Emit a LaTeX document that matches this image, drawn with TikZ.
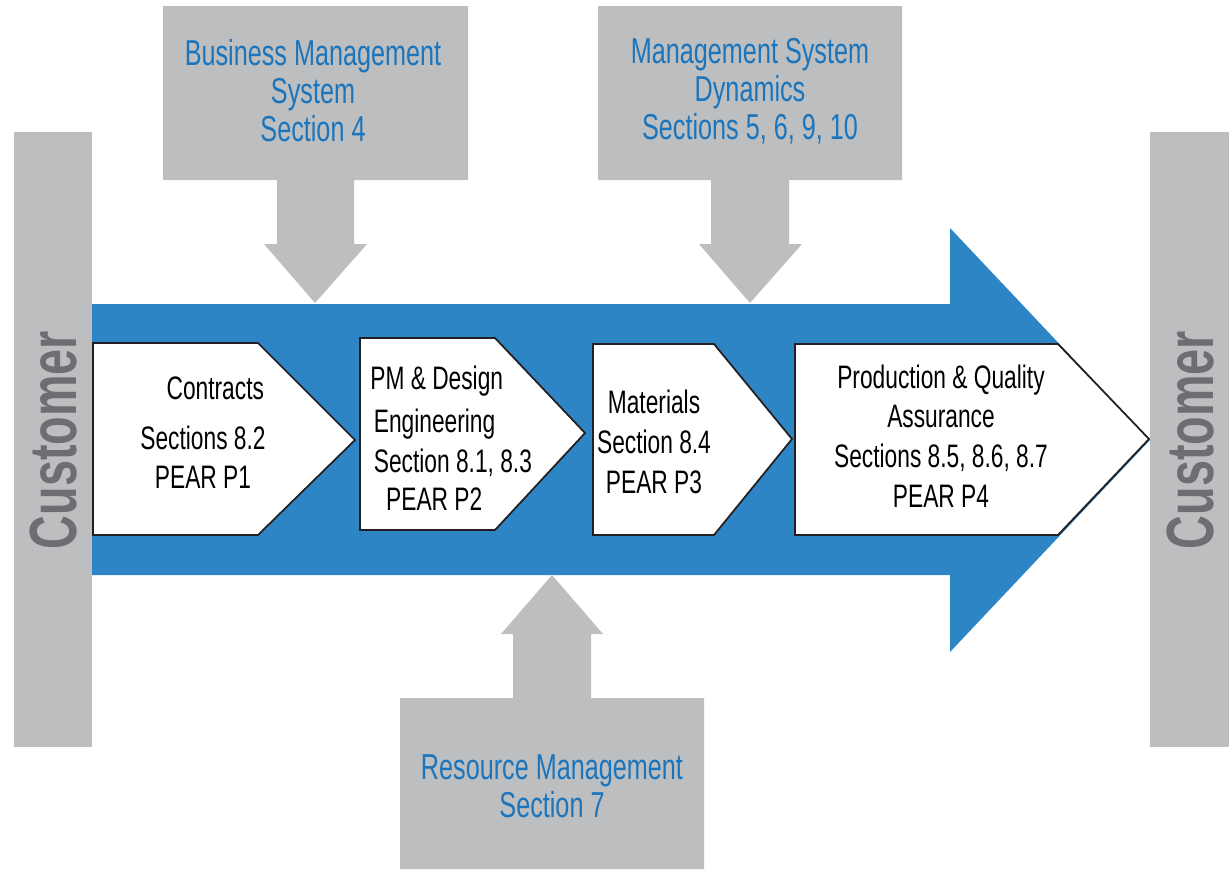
\documentclass[tikz,border=0pt]{standalone}
\usepackage{fontspec}
\setmainfont[FakeStretch=0.7]{Liberation Sans}
\usepackage{xcolor}
\usepackage{tikz}

\definecolor{calloutgray}{RGB}{188,190,192}
\definecolor{flowblue}{RGB}{46,133,198}
\definecolor{labelblue}{RGB}{27,117,188}
\definecolor{custgray}{RGB}{109,110,113}
\definecolor{edgeblack}{RGB}{35,31,32}

\begin{document}
\begin{tikzpicture}[x=0.02cm, y=-0.02cm,
        callout/.style={fill=calloutgray},
        calloutlabel/.style={text=labelblue, align=center, inner sep=0pt,
            font=\fontsize{20.5}{21.6}\selectfont},
        stage/.style={fill=white, draw=edgeblack, line width=1pt, line join=miter},
        stagelabel/.style={text=black, inner sep=0pt,
            font=\fontsize{18.5}{22.6}\selectfont},
        customer/.style={text=custgray, rotate=90, inner sep=0pt,
            font=\fontsize{38}{40}\selectfont\bfseries}]

            \useasboundingbox (0,0) rectangle (1229,869);

            % main flow arrow
            \fill[flowblue] (92,304) -- (950,304) -- (950,228) -- (1150,440)
                -- (950,652) -- (950,575) -- (92,575) -- cycle;

            % customer bars
            \fill[callout] (14,132) rectangle (92,747);
            \fill[callout] (1150,132) rectangle (1229,747);
            \node[customer] (custin) at (54,440) {Customer};
            \node[customer] (custout) at (1190,440) {Customer};

            % inputs
            \fill[callout] (163,6) -- (468,6) -- (468,180) -- (354,180) -- (354,244)
                -- (367,244) -- (315,303) -- (264,244) -- (277,244) -- (277,180)
                -- (163,180) -- cycle;
            \fill[callout] (598,6) -- (902,6) -- (902,180) -- (789,180) -- (789,244)
                -- (802,244) -- (750,303) -- (699,244) -- (711,244) -- (711,180)
                -- (598,180) -- cycle;
            \fill[callout] (400,869) -- (400,698) -- (513,698) -- (513,634)
                -- (501,634) -- (552,575) -- (603,634) -- (591,634) -- (591,698)
                -- (704,698) -- (704,869) -- cycle;

            \node[calloutlabel] (bms) at (313,91) {Business Management\\System\\Section 4};
            \node[calloutlabel] (msd) at (750,91) {Management System\\Dynamics\\Sections 5, 6, 9, 10};
            \node[calloutlabel] (rm) at (552,786) {Resource Management\\Section 7};

            % process stages
            \draw[stage] (93,343) -- (258,343) -- (355,440) -- (258,535) -- (93,535) -- cycle;
            \draw[stage] (360,338) -- (495,338) -- (585,433) -- (495,530) -- (360,530) -- cycle;
            \draw[stage] (593,344) -- (714,344) -- (792,439) -- (714,535) -- (593,535) -- cycle;
            \draw[stage] (795,344) -- (1058,344) -- (1149,439) -- (1058,535) -- (795,535) -- cycle;

            \node[stagelabel, align=center] (contracts) at (203,433)
                {\hspace*{14pt}Contracts\\[5.5pt]Sections 8.2\\PEAR P1};
            \node[stagelabel, align=left, anchor=west] (design) at (370,438)
                {PM \& Design\\[2pt]\hspace*{2pt}Engineering\\\hspace*{2pt}Section 8.1, 8.3\\[-1pt]\hspace*{9pt}PEAR P2};
            \node[stagelabel, align=center] (materials) at (654,442)
                {Materials\\Section 8.4\\PEAR P3};
            \node[stagelabel, align=center] (production) at (941,436)
                {Production \& Quality\\Assurance\\Sections 8.5, 8.6, 8.7\\PEAR P4};
        \end{tikzpicture}
\end{document}
